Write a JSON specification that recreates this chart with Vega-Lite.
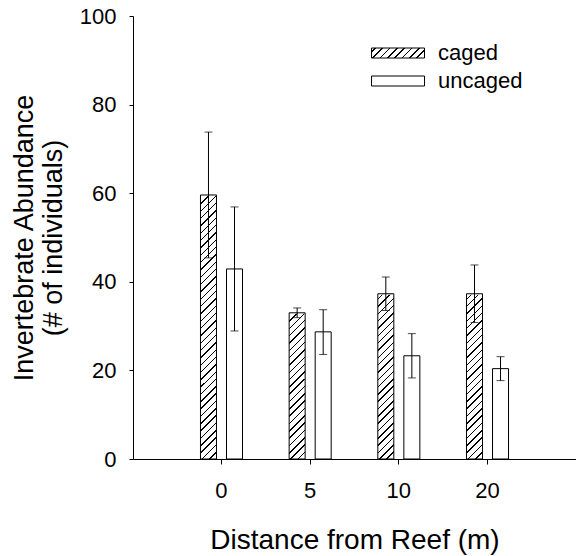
{
  "$schema": "https://vega.github.io/schema/vega-lite/v6.json",
  "width": 443,
  "height": 443,
  "autosize": {"type": "none"},
  "padding": {"left": 133, "top": 16, "right": 0, "bottom": 97},
  "config": {
    "font": "Liberation Sans",
    "view": {"stroke": null},
    "axis": {
      "grid": false,
      "domainColor": "#000",
      "tickColor": "#000",
      "labelColor": "#000",
      "titleColor": "#000",
      "labelFont": "Liberation Sans",
      "titleFont": "Liberation Sans",
      "labelFontSize": 22,
      "titleFontSize": 27,
      "titleFontWeight": "normal",
      "domainWidth": 1,
      "tickWidth": 1
    },
    "legend": {
      "orient": "none",
      "legendX": 254,
      "legendY": 26,
      "padding": 0,
      "symbolType": "M-5.3,-1H5.3V1H-5.3Z",
      "symbolSize": 100,
      "symbolOpacity": 1,
      "labelFont": "Liberation Sans",
      "labelFontSize": 22,
      "labelColor": "#000",
      "labelOffset": 29,
      "rowPadding": 6,
      "symbolStrokeColor": "#000",
      "symbolStrokeWidth": 1
    }
  },
  "data": {
    "values": [
      {"distance": "0", "treatment": "caged", "mean": 59.6, "lo": 45.4, "hi": 73.8},
      {"distance": "0", "treatment": "uncaged", "mean": 42.9, "lo": 28.9, "hi": 56.9},
      {"distance": "5", "treatment": "caged", "mean": 33.0, "lo": 31.9, "hi": 34.1},
      {"distance": "5", "treatment": "uncaged", "mean": 28.7, "lo": 23.6, "hi": 33.7},
      {"distance": "10", "treatment": "caged", "mean": 37.3, "lo": 33.5, "hi": 41.1},
      {"distance": "10", "treatment": "uncaged", "mean": 23.3, "lo": 18.3, "hi": 28.3},
      {"distance": "20", "treatment": "caged", "mean": 37.3, "lo": 30.8, "hi": 43.8},
      {"distance": "20", "treatment": "uncaged", "mean": 20.4, "lo": 17.7, "hi": 23.1}
    ]
  },
  "encoding": {
    "x": {
      "field": "distance",
      "type": "nominal",
      "sort": ["0", "5", "10", "20"],
      "scale": {"paddingInner": 0.526, "paddingOuter": 0.761},
      "axis": {"title": "Distance from Reef (m)", "titleFontSize": 28, "labelAngle": 0, "tickSize": 5, "labelPadding": 16, "titlePadding": 25}
    },
    "xOffset": {
      "field": "treatment",
      "type": "nominal",
      "sort": ["caged", "uncaged"],
      "scale": {"paddingInner": 0.385, "paddingOuter": 0}
    }
  },
  "layer": [
    {
      "transform": [{"filter": "datum.treatment === 'caged'"}],
      "mark": {
        "type": "bar",
        "fill": {
          "gradient": "linear", "x1": 0, "y1": 0, "x2": 0.0636, "y2": 1.0564,
          "stops": [
            {"offset": 0, "color": "#fff"},
            {"offset": 0.010, "color": "#fff"}, {"offset": 0.010, "color": "#000"}, {"offset": 0.0153, "color": "#000"}, {"offset": 0.0153, "color": "#fff"},
            {"offset": 0.036, "color": "#fff"}, {"offset": 0.036, "color": "#000"}, {"offset": 0.0413, "color": "#000"}, {"offset": 0.0413, "color": "#fff"},
            {"offset": 0.062, "color": "#fff"}, {"offset": 0.062, "color": "#000"}, {"offset": 0.0673, "color": "#000"}, {"offset": 0.0673, "color": "#fff"},
            {"offset": 0.088, "color": "#fff"}, {"offset": 0.088, "color": "#000"}, {"offset": 0.0933, "color": "#000"}, {"offset": 0.0933, "color": "#fff"},
            {"offset": 0.114, "color": "#fff"}, {"offset": 0.114, "color": "#000"}, {"offset": 0.1193, "color": "#000"}, {"offset": 0.1193, "color": "#fff"},
            {"offset": 0.140, "color": "#fff"}, {"offset": 0.140, "color": "#000"}, {"offset": 0.1453, "color": "#000"}, {"offset": 0.1453, "color": "#fff"},
            {"offset": 0.166, "color": "#fff"}, {"offset": 0.166, "color": "#000"}, {"offset": 0.1713, "color": "#000"}, {"offset": 0.1713, "color": "#fff"},
            {"offset": 0.192, "color": "#fff"}, {"offset": 0.192, "color": "#000"}, {"offset": 0.1973, "color": "#000"}, {"offset": 0.1973, "color": "#fff"},
            {"offset": 0.218, "color": "#fff"}, {"offset": 0.218, "color": "#000"}, {"offset": 0.2233, "color": "#000"}, {"offset": 0.2233, "color": "#fff"},
            {"offset": 0.244, "color": "#fff"}, {"offset": 0.244, "color": "#000"}, {"offset": 0.2493, "color": "#000"}, {"offset": 0.2493, "color": "#fff"},
            {"offset": 0.270, "color": "#fff"}, {"offset": 0.270, "color": "#000"}, {"offset": 0.2753, "color": "#000"}, {"offset": 0.2753, "color": "#fff"},
            {"offset": 0.296, "color": "#fff"}, {"offset": 0.296, "color": "#000"}, {"offset": 0.3013, "color": "#000"}, {"offset": 0.3013, "color": "#fff"},
            {"offset": 0.322, "color": "#fff"}, {"offset": 0.322, "color": "#000"}, {"offset": 0.3273, "color": "#000"}, {"offset": 0.3273, "color": "#fff"},
            {"offset": 0.348, "color": "#fff"}, {"offset": 0.348, "color": "#000"}, {"offset": 0.3533, "color": "#000"}, {"offset": 0.3533, "color": "#fff"},
            {"offset": 0.374, "color": "#fff"}, {"offset": 0.374, "color": "#000"}, {"offset": 0.3793, "color": "#000"}, {"offset": 0.3793, "color": "#fff"},
            {"offset": 0.400, "color": "#fff"}, {"offset": 0.400, "color": "#000"}, {"offset": 0.4053, "color": "#000"}, {"offset": 0.4053, "color": "#fff"},
            {"offset": 0.426, "color": "#fff"}, {"offset": 0.426, "color": "#000"}, {"offset": 0.4313, "color": "#000"}, {"offset": 0.4313, "color": "#fff"},
            {"offset": 0.452, "color": "#fff"}, {"offset": 0.452, "color": "#000"}, {"offset": 0.4573, "color": "#000"}, {"offset": 0.4573, "color": "#fff"},
            {"offset": 0.478, "color": "#fff"}, {"offset": 0.478, "color": "#000"}, {"offset": 0.4833, "color": "#000"}, {"offset": 0.4833, "color": "#fff"},
            {"offset": 0.504, "color": "#fff"}, {"offset": 0.504, "color": "#000"}, {"offset": 0.5093, "color": "#000"}, {"offset": 0.5093, "color": "#fff"},
            {"offset": 0.530, "color": "#fff"}, {"offset": 0.530, "color": "#000"}, {"offset": 0.5353, "color": "#000"}, {"offset": 0.5353, "color": "#fff"},
            {"offset": 0.556, "color": "#fff"}, {"offset": 0.556, "color": "#000"}, {"offset": 0.5613, "color": "#000"}, {"offset": 0.5613, "color": "#fff"},
            {"offset": 0.582, "color": "#fff"}, {"offset": 0.582, "color": "#000"}, {"offset": 0.5873, "color": "#000"}, {"offset": 0.5873, "color": "#fff"},
            {"offset": 0.608, "color": "#fff"}, {"offset": 0.608, "color": "#000"}, {"offset": 0.6133, "color": "#000"}, {"offset": 0.6133, "color": "#fff"},
            {"offset": 0.634, "color": "#fff"}, {"offset": 0.634, "color": "#000"}, {"offset": 0.6393, "color": "#000"}, {"offset": 0.6393, "color": "#fff"},
            {"offset": 0.660, "color": "#fff"}, {"offset": 0.660, "color": "#000"}, {"offset": 0.6653, "color": "#000"}, {"offset": 0.6653, "color": "#fff"},
            {"offset": 0.686, "color": "#fff"}, {"offset": 0.686, "color": "#000"}, {"offset": 0.6913, "color": "#000"}, {"offset": 0.6913, "color": "#fff"},
            {"offset": 0.712, "color": "#fff"}, {"offset": 0.712, "color": "#000"}, {"offset": 0.7173, "color": "#000"}, {"offset": 0.7173, "color": "#fff"},
            {"offset": 0.738, "color": "#fff"}, {"offset": 0.738, "color": "#000"}, {"offset": 0.7433, "color": "#000"}, {"offset": 0.7433, "color": "#fff"},
            {"offset": 0.764, "color": "#fff"}, {"offset": 0.764, "color": "#000"}, {"offset": 0.7693, "color": "#000"}, {"offset": 0.7693, "color": "#fff"},
            {"offset": 0.790, "color": "#fff"}, {"offset": 0.790, "color": "#000"}, {"offset": 0.7953, "color": "#000"}, {"offset": 0.7953, "color": "#fff"},
            {"offset": 0.816, "color": "#fff"}, {"offset": 0.816, "color": "#000"}, {"offset": 0.8213, "color": "#000"}, {"offset": 0.8213, "color": "#fff"},
            {"offset": 0.842, "color": "#fff"}, {"offset": 0.842, "color": "#000"}, {"offset": 0.8473, "color": "#000"}, {"offset": 0.8473, "color": "#fff"},
            {"offset": 0.868, "color": "#fff"}, {"offset": 0.868, "color": "#000"}, {"offset": 0.8733, "color": "#000"}, {"offset": 0.8733, "color": "#fff"},
            {"offset": 0.894, "color": "#fff"}, {"offset": 0.894, "color": "#000"}, {"offset": 0.8993, "color": "#000"}, {"offset": 0.8993, "color": "#fff"},
            {"offset": 0.920, "color": "#fff"}, {"offset": 0.920, "color": "#000"}, {"offset": 0.9253, "color": "#000"}, {"offset": 0.9253, "color": "#fff"},
            {"offset": 0.946, "color": "#fff"}, {"offset": 0.946, "color": "#000"}, {"offset": 0.9513, "color": "#000"}, {"offset": 0.9513, "color": "#fff"},
            {"offset": 0.972, "color": "#fff"}, {"offset": 0.972, "color": "#000"}, {"offset": 0.9773, "color": "#000"}, {"offset": 0.9773, "color": "#fff"},
            {"offset": 1, "color": "#fff"}
          ]
        }
      },
      "encoding": {
        "y": {"datum": 60, "type": "quantitative"},
        "y2": {"datum": 0}
      }
    },
    {
      "transform": [{"filter": "datum.treatment === 'caged'"}],
      "mark": {"type": "bar", "fill": "#fff", "stroke": "#fff", "strokeWidth": 2},
      "encoding": {
        "y": {"field": "mean", "type": "quantitative"},
        "y2": {"datum": 60}
      }
    },
    {
      "mark": {"type": "bar", "fill": "transparent", "stroke": "#000", "strokeWidth": 1},
      "encoding": {
        "y": {
          "field": "mean",
          "type": "quantitative",
          "scale": {"domain": [0, 100], "nice": false},
          "axis": {
            "title": ["Invertebrate Abundance", "(# of individuals)"],
            "values": [0, 20, 40, 60, 80, 100],
            "tickSize": 4,
            "labelPadding": 13,
            "titlePadding": 12
          }
        }
      }
    },
    {
      "mark": {"type": "bar"},
      "encoding": {
        "y": {"datum": 0, "type": "quantitative"},
        "y2": {"datum": 0},
        "fill": {
          "field": "treatment",
          "type": "nominal",
          "sort": ["caged", "uncaged"],
          "scale": {
            "range": [
              {"expr": "{gradient: 'linear', x1: 0, y1: 0, x2: 1.1478, y2: 0.2166, stops: [{offset: 0, color: '#fff'}, {offset: 0.05, color: '#fff'}, {offset: 0.05, color: '#000'}, {offset: 0.0738, color: '#000'}, {offset: 0.0738, color: '#fff'}, {offset: 0.1664, color: '#fff'}, {offset: 0.1664, color: '#000'}, {offset: 0.1902, color: '#000'}, {offset: 0.1902, color: '#fff'}, {offset: 0.2828, color: '#fff'}, {offset: 0.2828, color: '#000'}, {offset: 0.3066, color: '#000'}, {offset: 0.3066, color: '#fff'}, {offset: 0.3992, color: '#fff'}, {offset: 0.3992, color: '#000'}, {offset: 0.423, color: '#000'}, {offset: 0.423, color: '#fff'}, {offset: 0.5156, color: '#fff'}, {offset: 0.5156, color: '#000'}, {offset: 0.5394, color: '#000'}, {offset: 0.5394, color: '#fff'}, {offset: 0.632, color: '#fff'}, {offset: 0.632, color: '#000'}, {offset: 0.6558, color: '#000'}, {offset: 0.6558, color: '#fff'}, {offset: 0.7484, color: '#fff'}, {offset: 0.7484, color: '#000'}, {offset: 0.7722, color: '#000'}, {offset: 0.7722, color: '#fff'}, {offset: 0.8648, color: '#fff'}, {offset: 0.8648, color: '#000'}, {offset: 0.8886, color: '#000'}, {offset: 0.8886, color: '#fff'}, {offset: 1, color: '#fff'}]}"},
              "#fff"
            ]
          },
          "legend": {"title": null}
        }
      }
    },
    {
      "mark": {"type": "rule", "color": "#000", "strokeWidth": 1},
      "encoding": {
        "y": {"field": "lo", "type": "quantitative"},
        "y2": {"field": "hi"}
      }
    },
    {
      "mark": {"type": "tick", "color": "#000", "thickness": 1, "size": 8},
      "encoding": {"y": {"field": "hi", "type": "quantitative"}}
    },
    {
      "mark": {"type": "tick", "color": "#000", "thickness": 1, "size": 8},
      "encoding": {"y": {"field": "lo", "type": "quantitative"}}
    }
  ]
}
